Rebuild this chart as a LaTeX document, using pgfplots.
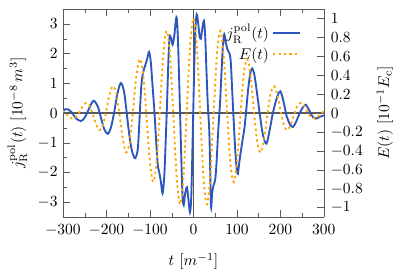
\documentclass[border=0pt]{standalone}
\usepackage{pgfplots}
\pgfplotsset{compat=1.18}
\definecolor{jblue}{RGB}{45,85,190}
\definecolor{eorange}{RGB}{255,165,0}
\definecolor{axgray}{RGB}{90,90,90}
\begin{document}
\begin{tikzpicture}
\pgfplotsset{
  every axis/.append style={width=168pt,height=134pt,scale only axis,
    xmin=-300,xmax=300, axis line style={axgray}, tick style={axgray}},
}
\begin{axis}[name=ax, axis y line*=left, ymin=-3.5,ymax=3.5,
  xtick={-300,-200,...,300}, minor x tick num=1,
  ytick={-3,...,3}, minor y tick num=1,
  xticklabel style={yshift=-1.5pt},
  xlabel={$t$ $[m^{-1}]$}, xlabel style={yshift=-4pt},
  ylabel={$j_{\mathrm{R}}^{\mathrm{pol}}(t)$ $[10^{-8}\,m^3]$},
  legend style={at={(0.93,0.96)}, anchor=north east, draw=none, fill=none},
  legend cell align=right, legend plot pos=right]
\addplot[axgray, line width=0.7pt, forget plot] coordinates {(-300,0) (300,0)};
\addplot[axgray, line width=0.7pt, forget plot] coordinates {(0,-3.5) (0,3.5)};
\addplot[jblue, line width=1.2pt, smooth,
  legend image code/.code={\draw[jblue, line width=1.3pt] (0cm,0cm) -- (0.6cm,0cm);}]
  coordinates {
(-300,0.05) (-295,0.13) (-288,0.12) (-280,0.02) (-270,-0.18) (-259,-0.27)
(-250,-0.15) (-240,0.15) (-230,0.41) (-220,0.22) (-212,-0.2) (-205,-0.55)
(-197,-0.70) (-190,-0.5) (-182,0.05) (-175,0.65) (-167,1.01) (-160,0.75)
(-155,0.2) (-150,-0.45) (-145,-1.0) (-140,-1.35) (-134,-1.52) (-128,-1.2)
(-124,-0.2) (-120,0.9) (-116,1.35) (-111,1.6) (-106,1.85) (-102,2.06)
(-98,1.7) (-94,0.9) (-90,0.1) (-86,-0.9) (-82,-1.75) (-79,-1.97) (-75,-2.3)
(-71,-2.70) (-67,-2.1) (-64,-1.0) (-61,0.2) (-58,1.6) (-55,2.55) (-51,2.5)
(-48,2.3) (-44,2.6) (-41,3.05) (-38.5,3.21) (-36,2.6) (-33,1.2) (-30,-0.4)
(-27,-2.0) (-25,-2.8) (-22.5,-3.1) (-19,-2.7) (-15,-2.5) (-12,-2.85)
(-8,-3.34) (-5,-2.8) (-2,-1.0) (1,1.0) (4,2.7) (7.5,3.32) (11,3.0) (14,2.6)
(17,2.5) (20,2.8) (24,3.1) (27,2.6) (30,1.4) (33,0.3) (36.5,-0.64)
(38.5,-1.9) (40.5,-3.18) (43,-2.7) (46,-2.44) (50,-2.25) (53,-1.7)
(57,-0.6) (61,0.3) (65,1.5) (68,2.3) (71,2.65) (74,2.4) (78,2.15) (83,2.0)
(86,1.7) (89,0.8) (92,-0.1) (96,-1.2) (99,-1.8) (102,-2.05) (106,-1.6)
(112,-1.0) (118,-0.42) (126,0.82) (131,1.35) (135,1.5) (140,1.3) (146,0.7)
(153,-0.08) (160,-0.75) (168,-1.03) (175,-0.6) (182,-0.05) (187,0.26)
(194,0.6) (200,0.73) (207,0.4) (214,-0.08) (222,-0.38) (229,-0.47)
(236,-0.3) (243,-0.05) (250,0.15) (258,0.28) (266,0.1) (275,-0.14)
(282,-0.19) (290,-0.13) (300,-0.08)
};
\addlegendentry{$j_{\mathrm{R}}^{\mathrm{pol}}(t)$}
\addlegendimage{eorange, line width=1.2pt, dash pattern=on 1.5pt off 2pt}
\addlegendentry{$E(t)$}
\end{axis}
\begin{axis}[axis y line*=right, axis x line=none, ymin=-1.1, ymax=1.1,
  ytick={-1,-0.8,-0.6,-0.4,-0.2,0,0.2,0.4,0.6,0.8,1},
  yticklabel style={xshift=1pt},
  ylabel={$E(t)$ $[10^{-1}E_{\mathrm{c}}]$}, ylabel shift=2pt]
\addplot[eorange, line width=1.2pt, dash pattern=on 1.5pt off 2pt, smooth] coordinates {
(-302.25,0.0251) (-294.5,0) (-286.75,-0.0351) (-279,-0.0582) (-271.25,-0.0481)
(-263.5,0) (-255.75,0.0648) (-248,0.1058) (-240.25,0.0859) (-232.5,0)
(-224.75,-0.1117) (-217,-0.1791) (-209.25,-0.1429) (-201.5,0)
(-193.75,0.1795) (-186,0.2826) (-178.25,0.2216) (-170.5,0)
(-162.75,-0.2687) (-155,-0.4158) (-147.25,-0.3203) (-139.5,0)
(-131.75,0.3751) (-124,0.5703) (-116.25,0.4316) (-108.5,0)
(-100.75,-0.4881) (-93,-0.7291) (-85.25,-0.5422) (-77.5,0)
(-69.75,0.5920) (-62,0.8690) (-54.25,0.6350) (-46.5,0)
(-38.75,-0.6694) (-31,-0.9655) (-23.25,-0.6933) (-15.5,0)
(-7.75,0.7055) (0,1) (7.75,0.7055) (15.5,0)
(23.25,-0.6933) (31,-0.9655) (38.75,-0.6694) (46.5,0)
(54.25,0.6350) (62,0.8690) (69.75,0.5920) (77.5,0)
(85.25,-0.5422) (93,-0.7291) (100.75,-0.4881) (108.5,0)
(116.25,0.4316) (124,0.5703) (131.75,0.3751) (139.5,0)
(147.25,-0.3203) (155,-0.4158) (162.75,-0.2687) (170.5,0)
(178.25,0.2216) (186,0.2826) (193.75,0.1795) (201.5,0)
(209.25,-0.1429) (217,-0.1791) (224.75,-0.1117) (232.5,0)
(240.25,0.0859) (248,0.1058) (255.75,0.0648) (263.5,0)
(271.25,-0.0481) (279,-0.0582) (286.75,-0.0351) (294.5,0) (302.25,0.0251)
};
\end{axis}
\pgfresetboundingbox
\path[use as bounding box] ([xshift=-40.6pt,yshift=-36.6pt]ax.south west)
  rectangle ([xshift=48.4pt,yshift=5.8pt]ax.north east);
\end{tikzpicture}
\end{document}
